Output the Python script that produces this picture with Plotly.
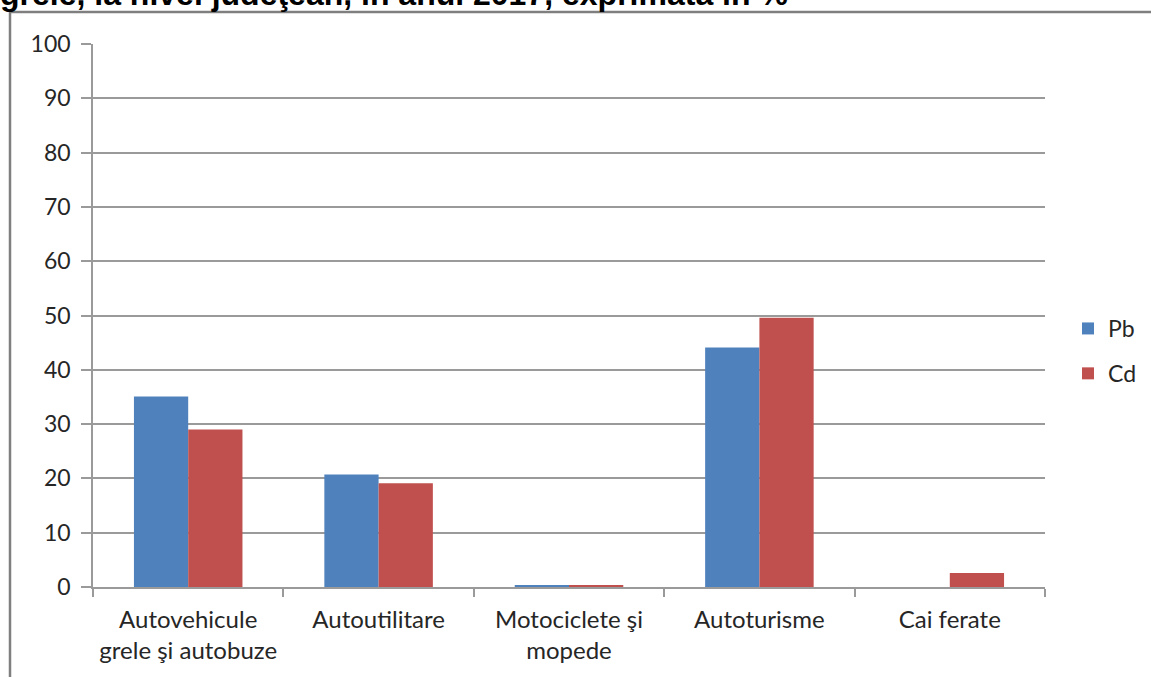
import plotly.graph_objects as go

# Categories (two-line labels) and shares in %
categories = [
    "Autovehicule<br>grele şi autobuze",
    "Autoutilitare",
    "Motociclete şi<br>mopede",
    "Autoturisme",
    "Cai ferate",
]
pb_values = [35.1, 20.7, 0.3, 44.1, 0.0]
cd_values = [29.0, 19.1, 0.3, 49.6, 2.6]
y_ticks = [0, 10, 20, 30, 40, 50, 60, 70, 80, 90, 100]

title_text = "grele, la nivel judeţean, în anul 2017, exprimată în %"

W, H = 1151, 677
L, R, T, B = 93, 106, 44, 90
pw, ph = W - L - R, H - T - B


def px_x(x):
    return (x - L) / pw


def px_y(y):
    return (H - B - y) / ph


fig = go.Figure()
fig.add_bar(name="Pb", x=categories, y=pb_values, marker_color="#4F81BD",
            marker_line_width=0, legendgroup="pb")
fig.add_bar(name="Cd", x=categories, y=cd_values, marker_color="#C0504D",
            marker_line_width=0, legendgroup="cd")

font_main = "Lato, 'Open Sans', sans-serif"
axis_grey = "#9a9a9a"

fig.update_layout(
    width=W, height=H,
    margin=dict(l=L, r=R, t=T, b=B, pad=0),
    paper_bgcolor="white", plot_bgcolor="white",
    barmode="group", bargap=0.43, bargroupgap=0,
    font=dict(family=font_main, size=24, color="#262626"),
    showlegend=True,
    legend=dict(xref="container", yref="container",
                x=1068 / W, y=1 - 351 / H, xanchor="left", yanchor="middle",
                font=dict(size=23), itemwidth=30, tracegroupgap=12,
                bgcolor="rgba(0,0,0,0)", borderwidth=0),
    xaxis=dict(
        type="category", showgrid=False,
        showline=True, linecolor=axis_grey, linewidth=1.5,
        ticks="outside", tickson="boundaries", ticklen=8,
        tickcolor=axis_grey, tickwidth=1.5,
        tickfont=dict(size=24), ticklabelstandoff=10,
    ),
    yaxis=dict(
        range=[0, 100], tickvals=y_ticks, showgrid=True,
        gridcolor=axis_grey, gridwidth=1.5,
        showline=True, linecolor=axis_grey, linewidth=1.5,
        ticks="outside", ticklen=10, tickcolor=axis_grey, tickwidth=1.5,
        tickfont=dict(size=23), zeroline=False, ticklabelstandoff=6,
    ),
)

# Outer chart frame (left and top edges visible)
fig.add_shape(type="rect", xref="paper", yref="paper",
              x0=px_x(10), x1=px_x(1500), y0=px_y(900), y1=px_y(12),
              line=dict(color="#7f7f7f", width=2.5), layer="below")

# Caption running above the frame
fig.add_annotation(text="<b>" + title_text + "</b>", xref="paper", yref="paper",
                   x=px_x(-2), y=px_y(14), xanchor="left", yanchor="bottom",
                   showarrow=False,
                   font=dict(family="Liberation Sans, Arial, sans-serif",
                             size=32, color="black"))

fig.write_html("out.html")
